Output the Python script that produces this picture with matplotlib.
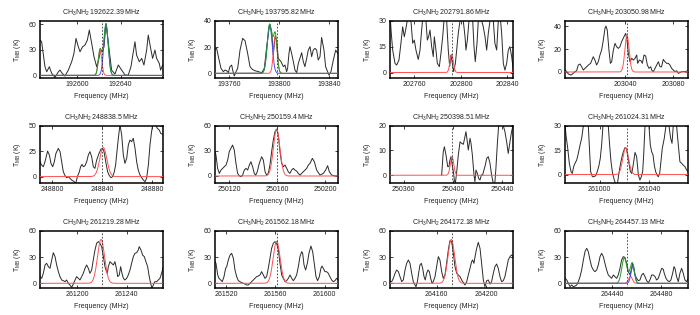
import numpy as np
import matplotlib
matplotlib.use("Agg")
import matplotlib.pyplot as plt

plt.rcParams['font.family'] = ['Liberation Sans', 'DejaVu Sans']
plt.rcParams['mathtext.fontset'] = 'custom'
plt.rcParams['mathtext.rm'] = 'Liberation Sans'
plt.rcParams['mathtext.it'] = 'Liberation Sans:italic'
plt.rcParams['mathtext.bf'] = 'Liberation Sans:bold'

# ---------------- data ----------------
title_freqs = ["192622.39", "193795.82", "202791.86", "203050.98",
               "248838.5", "250159.4", "250398.51", "261024.31",
               "261219.28", "261562.18", "264172.18", "264457.13"]

# frequency at the dashed marker (panel centre), MHz
centers = [192622.39, 193798.0, 202792.0, 203041.0,
           248839.5, 250159.6, 250399.0, 261022.0,
           261219.7, 261561.0, 264172.18, 264452.0]
half_widths = [57, 49.5, 53, 51.5, 49.5, 51.5, 50, 50, 50, 50, 50, 50]

ylims = [(-2.7, 64.3), (-3.3, 40), (-3, 30), (-5, 45),
         (-6, 50), (-8, 60), (-3, 20), (-5, 30),
         (-5, 60), (-5, 60), (-5, 60), (-5, 60)]
yticks = [[0, 30, 60], [0, 20, 40], [0, 15, 30], [0, 20, 40],
          [0, 25, 50], [0, 30, 60], [0, 10, 20], [0, 15, 30],
          [0, 30, 60], [0, 30, 60], [0, 30, 60], [0, 30, 60]]
xticks = [[192600, 192640], [193760, 193800, 193840],
          [202760, 202800, 202840], [203040, 203080],
          [248800, 248840, 248880], [250120, 250160, 250200],
          [250360, 250400, 250440], [261000, 261040],
          [261200, 261240], [261520, 261560, 261600],
          [264160, 264200], [264440, 264480]]

# observed spectra: frequency offset from panel centre (MHz) and T_MB (K)
spec_df = [
 [-57.0,-55.5,-52.4,-50.8,-48.4,-46.2,-43.1,-40.0,-38.5,-37.0,-33.9,-30.8,-27.7,-25.6,-23.7,-21.6,-20.0,-17.6,-15.4,-13.2,-11.4,-9.2,-7.1,-4.6,-2.5,-0.9,0.6,2.2,4.0,6.2,9.2,12.3,15.4,18.5,21.6,24.6,27.1,29.3,30.8,32.3,34.8,37.0,39.1,41.6,43.1,45.3,47.1,49.3,50.8,53.3,54.5,56.4,57.0],
 [-49.5,-48.2,-46.8,-44.7,-42.8,-41.5,-40.1,-38.8,-37.5,-36.1,-35.3,-34.0,-32.6,-31.3,-29.4,-27.3,-25.4,-23.3,-21.4,-19.5,-17.4,-14.7,-12.0,-9.9,-8.0,-5.6,-4.0,-2.7,-1.3,0.0,1.3,3.5,5.4,6.7,8.0,8.8,9.9,10.7,12.0,13.4,14.7,16.1,17.4,18.7,20.1,21.4,22.7,24.1,25.4,26.8,28.1,29.4,30.8,32.1,33.4,34.8,36.1,38.0,39.3,40.9,42.0,43.6,45.5,47.4,49.0,49.5],
 [-53.0,-51.9,-50.7,-48.7,-47.3,-45.3,-43.6,-42.1,-40.7,-39.3,-37.8,-36.4,-35.0,-33.5,-32.1,-30.7,-28.7,-27.2,-25.8,-24.4,-22.1,-20.9,-19.8,-18.6,-17.2,-15.8,-14.9,-13.5,-12.3,-10.6,-9.2,-7.7,-6.6,-5.4,-4.3,-2.9,-1.7,-0.6,0.6,1.7,3.2,4.3,5.7,7.2,8.6,10.0,11.5,12.3,13.5,14.9,16.3,18.1,19.2,20.3,21.8,22.9,24.4,25.8,27.2,28.7,30.1,31.5,33.0,34.4,35.8,37.2,38.7,40.1,41.5,43.0,44.4,45.8,47.3,48.7,50.1,51.6,53.0],
 [-51.5,-50.1,-48.7,-46.5,-44.6,-43.2,-41.8,-40.4,-39.0,-37.6,-36.2,-34.8,-33.4,-32.0,-30.1,-27.9,-26.5,-25.1,-23.7,-22.3,-20.9,-19.5,-18.1,-17.3,-16.2,-14.8,-13.6,-12.5,-11.1,-9.7,-8.4,-7.0,-5.6,-4.2,-2.2,-0.8,0.3,1.4,2.8,4.2,5.6,7.0,8.4,9.2,10.6,12.0,13.1,14.5,15.9,17.3,18.7,20.1,20.9,22.3,23.7,25.1,26.5,27.9,29.2,30.6,32.0,33.4,34.8,36.2,37.6,39.0,40.4,41.8,43.2,46.0,48.7,51.5],
 [-49.5,-48.2,-46.8,-45.5,-43.4,-42.0,-40.7,-39.3,-38.0,-36.7,-34.8,-33.4,-32.1,-30.8,-29.4,-28.1,-26.8,-25.4,-24.1,-22.7,-21.4,-20.6,-19.5,-17.9,-16.9,-15.8,-14.7,-13.4,-12.0,-10.7,-9.4,-8.0,-6.7,-5.4,-4.0,-2.1,-0.5,0.8,1.9,3.5,4.8,6.2,7.5,8.8,10.2,11.2,12.0,13.4,14.7,16.1,17.4,18.7,20.1,21.4,22.7,24.1,25.4,26.8,28.1,29.4,30.8,32.1,33.5,34.8,36.1,37.5,38.8,40.1,40.9,42.0,43.4,44.7,46.3,47.4,49.0,49.5],
 [-51.5,-50.7,-49.3,-47.9,-46.5,-45.1,-43.7,-42.3,-40.9,-39.6,-38.2,-36.8,-35.4,-34.0,-32.6,-31.2,-29.8,-28.4,-27.0,-25.6,-24.2,-22.8,-21.5,-20.1,-18.7,-17.5,-16.2,-14.5,-12.5,-11.1,-9.7,-8.4,-7.0,-5.6,-4.2,-2.8,-1.4,0.0,1.4,2.8,4.2,5.6,7.0,8.4,9.7,11.1,12.5,13.9,15.3,16.7,18.1,19.5,20.9,22.3,23.7,25.1,26.5,27.9,29.8,31.5,33.4,36.2,39.0,40.9,42.6,44.0,46.0,48.7,51.5],
 [-8.1,-6.8,-5.9,-4.6,-3.2,-2.2,-1.4,-0.5,0.5,1.4,2.2,3.0,4.1,5.4,6.8,8.1,9.5,10.8,11.6,12.7,13.5,14.9,15.7,16.8,18.1,18.9,19.7,20.8,21.9,23.0,24.1,25.1,26.2,27.3,28.4,29.7,31.1,32.4,33.8,34.9,35.9,37.0,38.1,39.2,40.5,41.9,43.2,44.6,45.9,47.3,48.6,50.0],
 [-50.0,-49.2,-47.8,-46.5,-45.1,-44.1,-43.0,-41.9,-40.5,-39.2,-37.8,-36.5,-35.1,-33.8,-32.4,-31.1,-30.3,-29.2,-27.8,-26.5,-25.1,-23.8,-22.4,-21.4,-20.3,-19.2,-18.1,-16.2,-14.9,-13.8,-12.7,-11.4,-10.0,-8.6,-7.6,-6.5,-5.4,-4.1,-2.7,-1.4,-0.3,0.8,1.9,3.0,4.1,5.1,6.8,8.1,9.5,10.8,11.9,13.0,13.8,14.9,16.2,18.1,19.2,20.3,21.4,22.4,23.5,24.9,25.7,26.8,27.8,28.9,30.5,31.9,33.2,34.3,35.7,36.8,37.8,39.2,40.5,41.9,43.2,44.6,45.9,47.3,48.6,50.0],
 [-50.0,-48.6,-47.3,-45.9,-44.6,-43.2,-41.9,-40.5,-39.2,-37.8,-36.5,-35.1,-33.8,-32.4,-31.1,-29.7,-28.4,-27.0,-25.7,-24.3,-23.0,-21.6,-20.3,-18.9,-17.6,-16.2,-14.9,-13.5,-12.2,-10.8,-9.5,-8.1,-6.8,-5.4,-4.1,-2.7,-1.4,0.0,1.4,2.7,3.5,4.6,5.4,6.8,8.1,9.5,10.8,12.2,13.0,14.3,15.4,16.5,17.6,18.9,20.3,21.6,23.0,24.3,25.7,27.0,28.4,29.7,30.5,31.9,33.2,34.6,35.9,37.3,38.6,39.7,40.8,41.9,43.2,44.6,45.9,47.3,48.6,50.0],
 [-50.0,-49.2,-47.8,-46.8,-45.4,-44.1,-42.7,-41.4,-40.5,-39.2,-37.8,-36.5,-35.1,-33.8,-32.4,-31.1,-29.7,-28.4,-27.0,-25.7,-24.3,-23.0,-21.6,-20.3,-18.9,-17.6,-16.2,-14.9,-13.5,-12.2,-10.8,-9.5,-8.1,-6.8,-5.4,-4.1,-2.7,-1.4,0.0,1.4,2.7,4.1,5.4,6.8,8.1,9.5,10.8,12.2,13.5,14.9,16.2,17.6,18.9,20.3,21.1,22.2,23.5,24.9,26.2,27.8,29.2,30.5,31.9,33.2,34.6,35.9,36.8,37.8,39.2,40.5,41.9,43.2,44.6,45.9,47.3,48.6,50.0],
 [-50.0,-48.6,-47.3,-45.9,-44.6,-43.2,-41.9,-40.5,-39.2,-37.8,-36.5,-35.1,-33.8,-32.4,-31.1,-29.7,-28.9,-27.8,-26.8,-25.7,-24.6,-23.5,-22.4,-21.4,-20.3,-19.2,-18.1,-17.0,-15.9,-14.9,-13.5,-12.2,-10.8,-9.5,-8.1,-6.8,-5.4,-4.1,-2.7,-1.4,0.0,1.4,2.7,4.1,5.4,6.8,8.1,9.5,10.8,12.2,13.5,14.9,16.2,17.0,18.1,19.2,20.3,21.6,23.0,24.3,25.7,27.0,28.4,29.7,31.1,32.4,33.8,35.1,36.5,37.8,39.2,40.5,41.9,43.2,44.6,45.9,47.3,48.6,50.0],
 [-50.0,-48.6,-47.3,-45.9,-44.6,-43.2,-41.9,-40.5,-39.2,-37.8,-36.5,-35.1,-33.8,-32.4,-31.1,-29.7,-28.4,-27.0,-25.7,-24.3,-23.0,-21.6,-20.3,-18.9,-17.6,-16.2,-14.9,-13.5,-12.2,-10.8,-9.5,-8.1,-6.8,-5.4,-4.1,-2.7,-1.4,0.0,1.4,2.7,4.1,4.6,5.7,6.8,8.1,9.5,10.8,12.2,13.5,14.9,16.2,17.6,18.9,20.3,21.6,23.0,24.3,25.7,27.0,28.4,29.7,30.5,31.9,33.2,34.6,35.9,37.3,38.4,39.2,40.5,41.9,43.2,44.6,45.9,47.3,48.6,50.0],
]
spec_t = [
 [41.6,39.6,10.2,4.3,10.2,2.4,-2.3,4.3,6.3,3.2,-0.8,6.3,16.1,25.9,43.5,33.7,27.8,33.7,35.7,41.6,53.3,37.6,22.0,10.2,20.0,29.8,27.8,33.7,61.2,37.6,6.3,1.6,12.2,6.3,0.4,0.4,10.2,27.8,39.6,23.9,16.1,20.0,12.2,29.8,47.4,31.8,20.0,29.8,20.0,14.1,6.3,12.2,12.0],
 [18.2,19.0,12.7,3.8,1.3,2.5,2.0,0.5,5.1,6.3,2.5,-2.0,1.3,3.8,17.7,26.6,24.8,15.2,5.1,3.0,2.0,1.3,0.5,3.8,20.3,37.5,31.6,13.9,27.8,25.3,11.4,8.9,5.1,6.3,1.3,3.8,15.2,20.3,15.2,8.9,2.5,0.5,7.6,11.4,15.7,8.9,5.1,11.4,17.7,20.3,12.7,17.7,19.0,17.7,10.1,12.7,27.3,17.7,5.1,1.3,-1.3,1.3,10.1,17.7,15.2,15.7],
 [34.0,22.7,13.0,5.3,4.3,7.2,16.9,26.5,20.7,25.6,31.4,34.2,30.0,16.9,18.8,13.0,7.6,13.0,24.6,34.2,30.0,18.8,20.7,24.6,15.0,9.2,20.7,13.0,5.3,3.4,11.1,20.7,30.0,34.2,30.0,13.0,3.4,10.1,5.3,0.5,5.3,13.0,22.7,30.0,34.2,30.0,20.7,13.0,18.8,30.0,34.2,30.0,15.0,6.3,16.9,30.0,34.2,30.0,26.5,20.7,13.0,22.7,30.0,34.2,30.0,16.9,13.0,30.0,34.2,22.7,5.3,1.4,5.3,13.0,15.0,9.2,1.4],
 [1.7,0.3,-1.8,-2.7,-1.2,0.3,1.1,6.1,7.0,4.6,1.7,3.2,4.6,6.1,7.6,13.4,10.5,6.1,9.0,14.9,19.3,28.0,38.3,40.3,36.8,19.3,7.6,9.0,19.3,25.1,22.2,20.7,22.2,26.6,31.0,33.9,28.0,16.3,9.0,12.0,10.5,12.0,14.9,7.6,10.5,9.9,7.6,14.9,14.0,6.1,3.2,4.6,1.7,0.3,3.2,6.1,9.0,4.6,4.6,11.1,9.0,7.6,7.6,6.1,3.2,1.7,0.3,1.1,-1.2,0.3,0.3,1.1],
 [14.6,11.3,9.7,14.6,25.1,21.2,13.0,9.7,14.6,22.8,27.7,24.5,14.6,4.8,0.9,-1.1,-0.1,-1.7,-3.4,-4.4,-5.7,-5.7,-0.1,4.8,9.7,12.0,9.7,10.7,14.6,21.2,24.5,19.5,9.7,8.1,16.3,22.8,27.1,27.7,24.5,13.0,4.8,0.9,-1.1,-0.1,4.8,11.4,21.2,37.6,51.0,40.8,21.2,13.0,17.9,31.0,35.9,34.3,37.6,27.7,14.6,6.4,1.5,-1.1,-3.4,-5.0,-1.7,11.4,31.0,44.1,50.5,54.0,50.5,47.4,45.7,42.5,41.5,41.5],
 [29.0,25.0,9.1,3.1,7.1,9.1,11.1,13.1,19.0,29.0,33.0,36.9,31.0,15.1,3.1,0.3,-0.8,1.1,7.1,9.1,7.1,13.1,17.0,11.1,3.1,1.1,5.1,15.1,23.0,19.0,5.1,1.1,3.1,13.1,29.0,42.9,52.8,56.0,48.9,29.0,15.1,11.1,13.1,9.1,5.1,3.1,7.1,9.1,7.1,5.9,3.1,1.1,3.1,5.1,7.1,9.1,13.1,15.1,21.0,17.0,7.1,1.1,3.1,7.1,12.3,5.1,1.1,0.0,0.3],
 [0.1,9.5,11.5,8.2,3.5,3.5,6.1,7.5,4.1,1.4,-1.9,-3.3,1.4,8.2,13.5,12.9,12.5,15.6,17.6,13.5,10.2,14.9,12.9,8.2,0.1,-2.6,2.1,0.8,-1.3,-1.9,0.1,0.1,2.1,4.1,6.8,7.5,4.8,0.1,-3.3,-4.0,2.8,12.2,20.0,23.0,23.0,20.0,17.6,13.5,8.8,13.5,17.6,20.5],
 [31.0,24.3,16.1,6.9,1.8,0.7,4.8,6.9,8.9,13.0,18.1,22.2,30.0,34.5,34.5,30.0,18.1,1.8,-1.3,-1.3,-0.7,1.8,5.8,9.9,18.1,30.0,34.5,34.5,30.0,18.1,7.9,0.7,-3.4,-6.4,-6.4,-0.3,4.8,9.9,14.0,16.5,16.1,12.0,6.9,1.8,0.7,4.8,13.6,11.0,-0.3,-3.4,-1.3,1.8,12.0,30.0,34.5,30.0,18.1,14.0,12.0,5.8,1.8,-0.7,-1.3,0.7,7.9,16.1,22.2,30.0,34.5,30.0,22.2,19.2,30.0,34.5,30.0,18.1,7.9,6.9,5.8,4.8,2.8,1.8],
 [7.6,5.7,11.4,20.9,22.8,19.0,17.1,26.6,34.9,30.4,20.9,13.3,7.6,3.8,3.0,1.9,3.8,0.0,-1.9,-4.6,-0.8,3.8,7.6,5.7,3.8,7.6,11.4,17.1,20.9,17.1,11.4,15.2,26.6,38.0,45.6,47.5,45.6,41.8,30.4,19.0,15.2,11.4,19.0,24.7,22.8,20.9,24.7,15.2,7.6,9.5,19.0,11.4,5.7,3.8,5.7,9.5,15.2,22.8,30.4,34.2,34.9,38.0,41.8,38.0,32.3,30.4,24.7,19.0,7.6,0.0,-5.7,-1.9,1.9,1.9,3.8,5.7,11.4,19.0],
 [24.7,22.8,9.5,5.7,3.8,1.9,7.6,17.1,19.0,26.6,32.3,34.2,28.5,15.2,7.6,3.0,1.9,0.7,0.0,-0.8,-1.9,-1.9,0.0,1.9,3.8,5.7,7.6,8.3,9.5,13.3,9.5,5.7,7.6,17.1,28.5,39.9,45.6,47.5,45.6,38.0,22.8,9.5,5.7,1.9,3.0,5.7,9.5,5.7,3.0,5.7,9.5,19.0,30.4,36.1,34.2,20.9,15.2,22.8,34.2,42.5,36.1,22.8,7.6,3.0,7.6,17.1,19.7,17.1,13.3,13.3,11.4,7.6,3.8,1.9,3.0,5.7,3.8],
 [1.9,1.9,5.7,11.4,15.2,13.3,7.6,1.9,3.8,15.2,22.8,26.6,22.8,11.4,1.9,-1.9,-3.8,1.9,11.4,20.9,22.8,17.1,7.6,3.8,11.4,15.2,13.3,5.7,0.0,1.9,7.6,19.0,30.4,26.6,13.3,5.7,9.5,22.8,38.0,48.6,47.5,34.2,19.0,11.4,9.5,7.6,3.8,0.7,-1.9,1.9,9.5,17.1,24.7,26.6,22.8,32.3,39.9,46.7,39.9,22.8,3.8,-3.8,3.0,3.8,-0.8,1.9,11.4,19.0,22.0,17.1,7.6,1.9,3.0,7.6,17.1,26.6,30.4,32.3,30.4],
 [5.7,3.8,0.0,-3.8,-1.9,-3.8,-3.1,-1.9,1.9,7.6,15.2,26.6,36.1,39.9,36.1,26.6,19.0,15.2,13.3,15.2,20.9,30.4,34.2,30.4,22.8,15.2,9.5,7.6,5.7,9.5,7.6,5.7,9.5,17.1,26.6,30.4,29.6,22.8,13.3,9.5,17.1,22.8,19.0,9.5,5.7,3.0,3.8,9.5,11.4,7.6,3.0,0.7,3.8,9.5,9.5,7.6,3.8,5.7,11.4,17.1,16.0,11.4,5.7,3.0,1.9,3.8,11.4,19.0,17.1,7.6,1.9,11.4,17.1,11.4,3.8,1.9,5.7],
]

# Gaussian model components: centre (MHz), peak (K), FWHM (MHz), colour role
components = [
 [(192620.9, 30, 3.8, 'red'), (192626.4, 60, 4.8, 'blue')],
 [(193792.4, 37, 4.6, 'blue'), (193796.9, 28.5, 3.5, 'red')],
 [(202792.0, 10.5, 3.4, 'red')],
 [(203041.3, 32, 4.2, 'red')],
 [(248840.8, 28.5, 6.7, 'red')],
 [(250159.6, 55.5, 6.4, 'red')],
 [(250399.3, 7.5, 3.3, 'red')],
 [(261021.2, 16.5, 5.5, 'red')],
 [(261219.2, 50, 6.8, 'red')],
 [(261561.0, 48, 6.6, 'red')],
 [(264171.9, 50, 6.5, 'red')],
 [(264450.1, 29, 4.8, 'other'), (264455.1, 8, 3.5, 'red'), (264456.9, 19, 3.5, 'blue')],
]

# ---------------- layout / style ----------------
W, H = 700, 315
col_left = [40, 215, 390, 565]
row_top = [20.7, 125.7, 230.7]
ax_w, ax_h = 123.3, 57.0
colors = {'red': '#ff5050', 'blue': '#4a4aff', 'green': '#1f9a1f'}
txt = '#222222'
fs = 5.0

fig = plt.figure(figsize=(W / 100, H / 100), dpi=100)

def gauss(f, c, a, fwhm):
    s = fwhm / 2.3548
    return a * np.exp(-0.5 * ((f - c) / s) ** 2)

for i in range(12):
    r, c = divmod(i, 4)
    ax = fig.add_axes([col_left[c] / W, 1 - (row_top[r] + ax_h) / H, ax_w / W, ax_h / H])
    fc = centers[i]
    lo, hi = fc - half_widths[i], fc + half_widths[i]
    f = fc + np.array(spec_df[i])
    t = np.array(spec_t[i])
    ax.plot(f, t, color='#2a2a2a', lw=0.7, zorder=2)

    fgrid = np.linspace(lo, hi, 1200)
    comps = components[i]
    total = np.zeros_like(fgrid)
    for (cc, aa, ww, role) in comps:
        g = gauss(fgrid, cc, aa, ww)
        total += g
        if role in ('red', 'blue'):
            ax.plot(fgrid, g, color=colors[role], lw=0.7, zorder=3)
    if len(comps) > 1:
        ax.plot(fgrid, total, color=colors['green'], lw=0.7, zorder=4)

    ax.axvline(fc, color='#333333', lw=0.6, ls=(0, (2, 2)), zorder=5)

    ax.set_xlim(lo, hi)
    ax.set_ylim(*ylims[i])
    ax.set_xticks(xticks[i])
    ax.set_yticks(yticks[i])
    ax.set_xticklabels([str(v) for v in xticks[i]])
    ax.set_yticklabels([str(v) for v in yticks[i]])
    ax.tick_params(direction='in', length=2.5, width=0.6, top=True, right=True,
                   labelsize=fs, pad=2.5, colors='#222222', labelcolor=txt)
    for sp in ax.spines.values():
        sp.set_linewidth(1.1)
        sp.set_color('black')
    ax.set_title(r'$\mathrm{CH_3NH_2\;' + title_freqs[i] + r'\;MHz}$',
                 fontsize=fs, color=txt, pad=4.5)
    ax.set_xlabel('Frequency (MHz)', fontsize=fs, color=txt, labelpad=3.5)
    ax.set_ylabel(r'T$_{\rm MB}$ (K)', fontsize=fs, color=txt, labelpad=4)

fig.savefig('out.png', dpi=100)
